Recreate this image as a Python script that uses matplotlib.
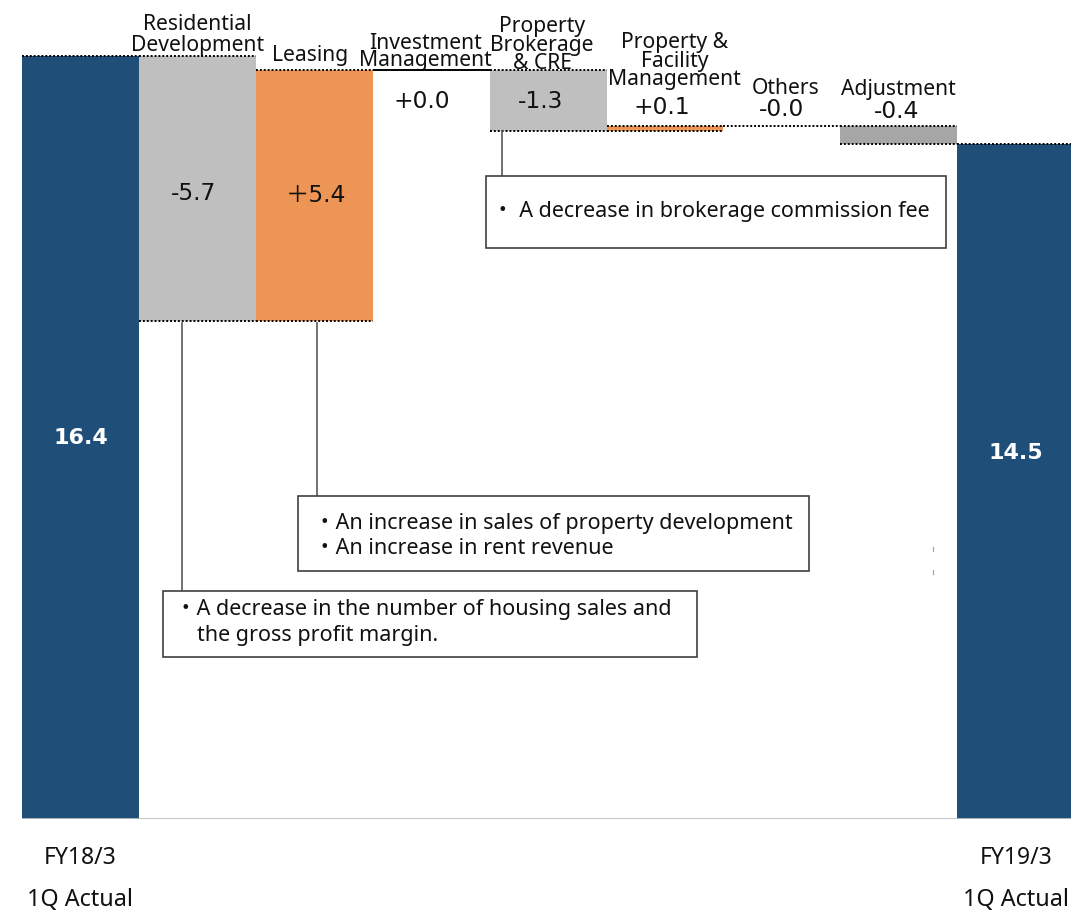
import matplotlib
matplotlib.use("Agg")
import matplotlib.pyplot as plt
from matplotlib.patches import Rectangle
from matplotlib.lines import Line2D
from matplotlib.transforms import blended_transform_factory

# ---------------- data ----------------
categories = ["FY18/3\n1Q Actual", "Residential\nDevelopment", "Leasing",
              "Investment\nManagement", "Property\nBrokerage\n& CRE",
              "Property &\nFacility\nManagement", "Others", "Adjustment",
              "FY19/3\n1Q Actual"]
start_value = 16.4
changes = [-5.7, 5.4, 0.0, -1.3, 0.1, -0.0, -0.4]
end_value = 14.5
change_labels = ["-5.7", "\uff0b5.4", "+0.0", "-1.3", "+0.1", "-0.0", "-0.4"]
total_labels = ["16.4", "14.5"]
note_brokerage = ["\u30fb A decrease in brokerage commission fee"]
note_leasing = ["\u30fbAn increase in sales of property development",
                "\u30fbAn increase in rent revenue"]
note_residential = ["\u30fbA decrease in the number of housing sales and",
                    "the gross profit margin."]

# ---------------- style ----------------
BLUE = "#1F4E79"
GRAY = "#BFBFBF"
ORANGE = "#ED9554"
DGRAY = "#A6A6A6"
bar_colors = [BLUE, GRAY, ORANGE, GRAY, GRAY, ORANGE, GRAY, DGRAY, BLUE]

NARROW = "Noto Sans"
NOTE_FONT = ["Noto Sans", "Noto Sans CJK JP"]
VAL_FONT = ["DejaVu Sans", "Noto Sans CJK JP"]

W, H = 1071, 912
fig = plt.figure(figsize=(W / 100, H / 100), dpi=100)
slot = 116.9
px_per_unit = 46.52
ax = fig.add_axes([22 / W, 92 / H, 9 * slot / W, 820 / H])
ax.set_xlim(-0.5, 8.5)
ax.set_ylim(0, 820 / px_per_unit)
ax.axis("off")


def fx(x):
    return x / W


def fy(y):
    return 1 - y / H


# ---------------- bars ----------------
levels = [start_value]
for c in changes:
    levels.append(round(levels[-1] + c, 4))

bottoms, heights = [0.0], [start_value]
for i, c in enumerate(changes):
    lo = min(levels[i], levels[i + 1])
    bottoms.append(lo)
    heights.append(abs(c))
bottoms.append(0.0)
heights.append(end_value)

xs = list(range(len(categories)))
ax.bar(xs, heights, bottom=bottoms, width=1.0, color=bar_colors,
       linewidth=0, zorder=2)

# connectors (tops / bottoms of each bar)
dot = (0, (1, 1))
for i in xs:
    top = bottoms[i] + heights[i]
    if heights[i] == 0:
        style = "-" if i == 3 else dot
        ax.hlines(top, i - 0.5, i + 0.5, colors="black", linestyles=style,
                  linewidth=1.4, zorder=4)
        continue
    ax.hlines(top, i - 0.5, i + 0.5, colors="black", linestyles=dot,
              linewidth=1.4, zorder=4)
    if bottoms[i] > 0:
        ax.hlines(bottoms[i], i - 0.5, i + 0.5, colors="black", linestyles=dot,
                  linewidth=1.4, zorder=4)

# baseline
ax.axhline(0, color="#BFBFBF", linewidth=2, zorder=3)

# ---------------- texts ----------------
bt = blended_transform_factory(ax.transData, fig.transFigure)

label_y = [None, 35, 56, 52, 45, 61, 88, 89, None]
label_dx = [0, 0, -0.04, -0.05, -0.05, 0.08, 0.03, 0, 0]
label_ls = [1, 1.0, 1, 0.72, 0.86, 0.82, 1, 1, 1]
for i, lab in enumerate(categories):
    if label_y[i] is None:
        continue
    ax.text(i + label_dx[i], fy(label_y[i]), lab, transform=bt, ha="center",
            va="center", fontsize=15.2, family=NARROW,
            linespacing=label_ls[i], color="#111111")

val_pos = [(194, 193), (316, 196), (422, 101), (541, 101), (662, 108),
           (782, 110), (897, 111)]
for (x, y), lab in zip(val_pos, change_labels):
    fig.text(fx(x), fy(y), lab, ha="center", va="center", fontsize=16.8,
             family=VAL_FONT, color="#111111")

ax.text(0, fy(438), total_labels[0], transform=bt, ha="center", va="center",
        fontsize=16, fontweight="bold", color="white", family="DejaVu Sans")
ax.text(8, fy(453), total_labels[1], transform=bt, ha="center", va="center",
        fontsize=16, fontweight="bold", color="white", family="DejaVu Sans")

# x labels
for i in (0, 8):
    first, second = categories[i].split("\n")
    ax.text(i, fy(858), first, transform=bt, ha="center", va="center",
            fontsize=16.5, family=NARROW, color="#111111")
    ax.text(i, fy(900), second, transform=bt, ha="center", va="center",
            fontsize=16.8, family=NARROW, color="#111111")

# ---------------- notes ----------------
def note_box(x0, y0, x1, y1, lines, tx, ty0, dy, indents):
    fig.add_artist(Rectangle((fx(x0), fy(y1)), fx(x1) - fx(x0),
                             fy(y0) - fy(y1), transform=fig.transFigure,
                             facecolor="white", edgecolor="#404040",
                             linewidth=1.2, zorder=5))
    for k, line in enumerate(lines):
        fig.text(fx(tx + indents[k]), fy(ty0 + k * dy), line, ha="left",
                 va="center", fontsize=15.5, family=NOTE_FONT,
                 color="#111111", zorder=6)


def leader(x, y0, y1):
    fig.add_artist(Line2D([fx(x), fx(x)], [fy(y0), fy(y1)],
                          transform=fig.transFigure, color="#595959",
                          linewidth=1.2, zorder=4))


leader(502, 132, 177)
leader(317, 324, 497)
leader(182, 324, 592)
note_box(486, 177, 946, 249, note_brokerage, 492, 212, 25, [0])
note_box(298, 497, 809, 572, note_leasing, 314, 524, 25, [0, 0])
note_box(163, 592, 697, 658, note_residential, 175, 610, 25, [0, 22])

# tiny marks near the right bar
for yy in (550, 573):
    fig.add_artist(Line2D([fx(933), fx(933)], [fy(yy - 2), fy(yy + 2)],
                          transform=fig.transFigure, color="#A0A0A0",
                          linewidth=0.8))

fig.savefig("out.png", dpi=100)
